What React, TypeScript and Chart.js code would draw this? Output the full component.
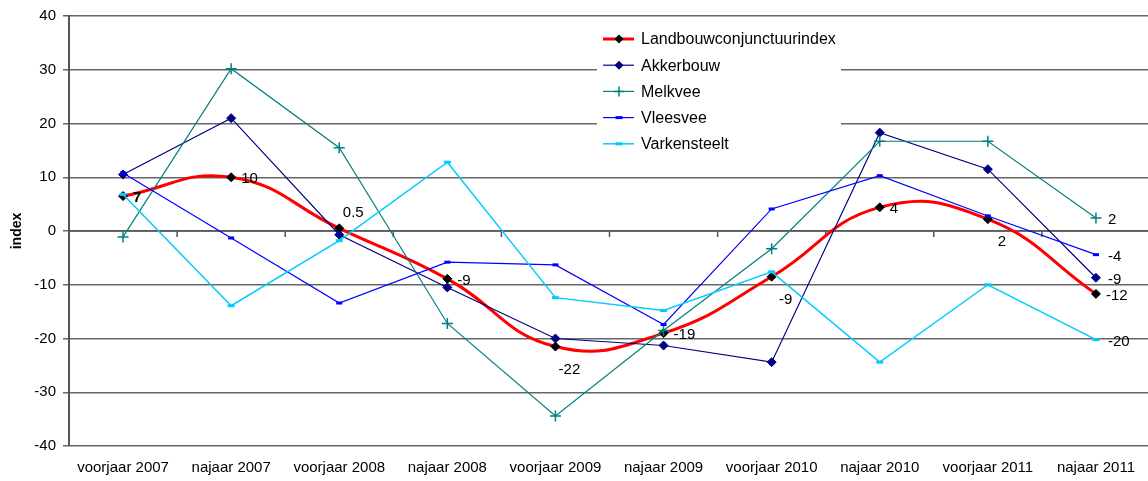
import React, { useEffect, useRef } from "react";
import { Chart, registerables } from "chart.js";

Chart.register(...registerables);

const categories = [
  "voorjaar 2007", "najaar 2007", "voorjaar 2008", "najaar 2008", "voorjaar 2009",
  "najaar 2009", "voorjaar 2010", "najaar 2010", "voorjaar 2011", "najaar 2011",
];
const landbouw = [6.5, 10, 0.5, -8.9, -21.5, -19, -8.5, 4.4, 2.2, -11.7];
const akkerbouw = [10.5, 21, -0.7, -10.5, -20, -21.3, -24.4, 18.3, 11.5, -8.7];
const melkvee = [-1.1, 30.2, 15.5, -17.2, -34.4, -18.5, -3.3, 16.7, 16.7, 2.4];
const vleesvee = [10.8, -1.3, -13.4, -5.8, -6.3, -17.4, 4.1, 10.3, 2.8, -4.4];
const varkensteelt = [6.8, -13.9, -1.8, 12.8, -12.4, -14.8, -7.6, -24.4, -10, -20.2];

const seriesNames = ["Landbouwconjunctuurindex", "Akkerbouw", "Melkvee", "Vleesvee", "Varkensteelt"];
const landbouwLabels = ["7", "10", "0.5", "-9", "-22", "-19", "-9", "4", "2", "-12"];
const landbouwLabelPlacement = ["right", "right", "above", "right", "below", "right", "below", "right", "below", "right"];
// last-point labels for the other series (Akkerbouw, Melkvee, Vleesvee, Varkensteelt)
const endLabels = ["-9", "2", "-4", "-20"];

const yMin = -40;
const yMax = 40;
const yStep = 10;

const FONT = "'Liberation Sans', Arial, sans-serif";

const colors = {
  landbouwLine: "#FF0000",
  landbouwPoint: "#000000",
  akkerbouw: "#000080",
  melkvee: "#008080",
  vleesvee: "#0000FF",
  varkensteelt: "#00CCFF",
};

function drawMarker(ctx: CanvasRenderingContext2D, kind: string, x: number, y: number, color: string) {
  ctx.save();
  if (kind === "diamond") {
    const r = 4.5;
    ctx.fillStyle = color;
    ctx.beginPath();
    ctx.moveTo(x, y - r);
    ctx.lineTo(x + r, y);
    ctx.lineTo(x, y + r);
    ctx.lineTo(x - r, y);
    ctx.closePath();
    ctx.fill();
  } else if (kind === "cross") {
    const r = 5;
    ctx.strokeStyle = color;
    ctx.lineWidth = 1.5;
    ctx.beginPath();
    ctx.moveTo(x - r, y);
    ctx.lineTo(x + r, y);
    ctx.moveTo(x, y - r);
    ctx.lineTo(x, y + r);
    ctx.stroke();
  } else if (kind === "dash") {
    ctx.fillStyle = color;
    ctx.fillRect(x - 3.5, y - 1.5, 7, 3);
  }
  ctx.restore();
}

const legendKinds = ["diamond", "diamond", "cross", "dash", "dash"];
const legendLineColors = [colors.landbouwLine, colors.akkerbouw, colors.melkvee, colors.vleesvee, colors.varkensteelt];
const legendMarkerColors = [colors.landbouwPoint, colors.akkerbouw, colors.melkvee, colors.vleesvee, colors.varkensteelt];
const legendLineWidths = [3, 1.2, 1.2, 1.2, 1.5];

const decorPlugin = {
  id: "decor",
  beforeDatasetsDraw(chart: any) {
    const { ctx, chartArea, scales } = chart;
    const x = scales.x;
    const y0 = scales.y.getPixelForValue(0);
    ctx.save();
    ctx.strokeStyle = "#555";
    ctx.lineWidth = 1.5;
    ctx.beginPath();
    ctx.moveTo(chartArea.left, y0);
    ctx.lineTo(chartArea.right, y0);
    for (let i = 1; i < categories.length; i++) {
      const bx = (x.getPixelForValue(i - 1) + x.getPixelForValue(i)) / 2;
      ctx.moveTo(bx, y0);
      ctx.lineTo(bx, y0 + 6);
    }
    ctx.stroke();
    ctx.restore();
  },
  afterDatasetsDraw(chart: any) {
    const { ctx } = chart;
    ctx.save();
    ctx.fillStyle = "#000";
    ctx.textBaseline = "middle";
    const meta0 = chart.getDatasetMeta(0);
    meta0.data.forEach((pt: any, i: number) => {
      const place = landbouwLabelPlacement[i];
      ctx.font = (i === 0 ? "bold " : "") + "15px " + FONT;
      if (place === "right") {
        ctx.textAlign = "left";
        ctx.fillText(landbouwLabels[i], pt.x + 10, pt.y + 2);
      } else if (place === "above") {
        ctx.textAlign = "center";
        ctx.fillText(landbouwLabels[i], pt.x + 14, pt.y - 15);
      } else {
        ctx.textAlign = "center";
        ctx.fillText(landbouwLabels[i], pt.x + 14, pt.y + 23);
      }
    });
    ctx.font = "15px " + FONT;
    ctx.textAlign = "left";
    for (let d = 1; d <= 4; d++) {
      const meta = chart.getDatasetMeta(d);
      const pt = meta.data[meta.data.length - 1];
      ctx.fillText(endLabels[d - 1], pt.x + 12, pt.y + 2);
    }
    ctx.restore();
  },
  afterDraw(chart: any) {
    const { ctx } = chart;
    ctx.save();
    ctx.fillStyle = "#fff";
    ctx.fillRect(597, 26, 244, 132);
    const rowY0 = 39;
    const rowH = 26.2;
    seriesNames.forEach((name, k) => {
      const y = rowY0 + k * rowH;
      ctx.strokeStyle = legendLineColors[k];
      ctx.lineWidth = legendLineWidths[k];
      ctx.beginPath();
      ctx.moveTo(603, y);
      ctx.lineTo(634, y);
      ctx.stroke();
      drawMarker(ctx, legendKinds[k], 619, y, legendMarkerColors[k]);
      ctx.fillStyle = "#000";
      ctx.font = "16px " + FONT;
      ctx.textAlign = "left";
      ctx.textBaseline = "middle";
      ctx.fillText(name, 641, y + 1);
    });
    ctx.restore();
  },
};

export default function App() {
  const canvasRef = useRef<HTMLCanvasElement | null>(null);

  useEffect(() => {
    if (!canvasRef.current) return;
    const chart = new Chart(canvasRef.current, {
      type: "line",
      data: {
        labels: categories,
        datasets: [
          {
            label: seriesNames[0],
            data: landbouw,
            borderColor: colors.landbouwLine,
            borderWidth: 3,
            tension: 0.45,
            pointStyle: "rectRot",
            pointRadius: 4.5,
            pointBackgroundColor: colors.landbouwPoint,
            pointBorderColor: colors.landbouwPoint,
            pointBorderWidth: 1,
            order: 5,
          },
          {
            label: seriesNames[1],
            data: akkerbouw,
            borderColor: colors.akkerbouw,
            borderWidth: 1.2,
            tension: 0,
            pointStyle: "rectRot",
            pointRadius: 4.5,
            pointBackgroundColor: colors.akkerbouw,
            pointBorderColor: colors.akkerbouw,
            pointBorderWidth: 1,
            order: 4,
          },
          {
            label: seriesNames[2],
            data: melkvee,
            borderColor: colors.melkvee,
            borderWidth: 1.2,
            tension: 0,
            pointStyle: "cross",
            pointRadius: 5.5,
            pointBorderColor: colors.melkvee,
            pointBorderWidth: 1.5,
            order: 3,
          },
          {
            label: seriesNames[3],
            data: vleesvee,
            borderColor: colors.vleesvee,
            borderWidth: 1.2,
            tension: 0,
            pointStyle: "line",
            pointRadius: 3,
            pointBorderColor: colors.vleesvee,
            pointBorderWidth: 3,
            order: 2,
          },
          {
            label: seriesNames[4],
            data: varkensteelt,
            borderColor: colors.varkensteelt,
            borderWidth: 1.5,
            tension: 0,
            pointStyle: "line",
            pointRadius: 3.5,
            pointBorderColor: colors.varkensteelt,
            pointBorderWidth: 3,
            order: 1,
          },
        ],
      },
      options: {
        responsive: false,
        animation: false,
        devicePixelRatio: 1,
        layout: { padding: { top: 14, right: 0, bottom: 0, left: 0 } },
        plugins: {
          legend: { display: false },
          tooltip: { enabled: false },
          title: { display: false },
        },
        scales: {
          x: {
            type: "category",
            offset: true,
            grid: { display: false, drawTicks: false },
            border: { display: false },
            ticks: {
              color: "#000",
              font: { family: FONT, size: 15 },
              padding: 13,
              maxRotation: 0,
              autoSkip: false,
            },
            afterFit: (scale: any) => {
              scale.height = 35;
            },
          },
          y: {
            min: yMin,
            max: yMax,
            ticks: {
              stepSize: yStep,
              color: "#000",
              font: { family: FONT, size: 15 },
              padding: 7,
            },
            grid: { color: "#666", lineWidth: 1.5, tickLength: 6 },
            border: { color: "#555", width: 2 },
            title: {
              display: true,
              text: "index",
              color: "#000",
              font: { family: FONT, size: 14, weight: "bold" },
              padding: { top: 9, bottom: 0 },
            },
            afterFit: (scale: any) => {
              scale.width = 69;
            },
          },
        },
      },
      plugins: [decorPlugin],
    });
    return () => chart.destroy();
  }, []);

  return (
    <div style={{ position: "absolute", left: 0, top: 0, width: 1148, height: 481, overflow: "hidden", background: "#fff" }}>
      <canvas ref={canvasRef} width={1157} height={481} style={{ display: "block" }} />
    </div>
  );
}
